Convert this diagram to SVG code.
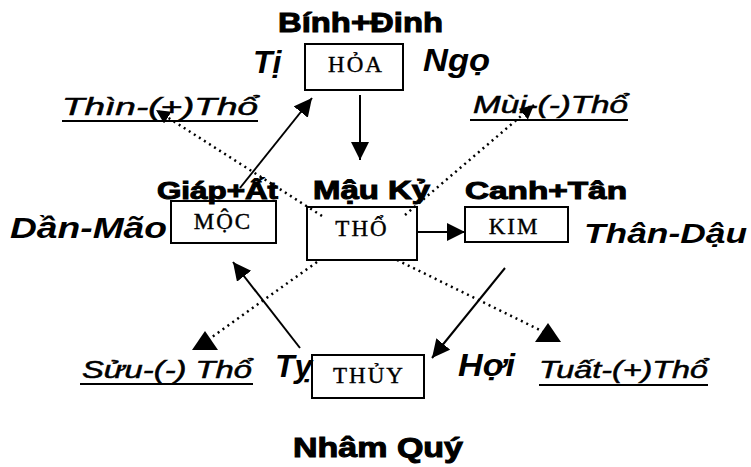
<svg xmlns="http://www.w3.org/2000/svg" width="751" height="467" viewBox="0 0 751 467">
<style>
.box{fill:none;stroke:#000;stroke-width:2}
.lbl{font-family:"Liberation Serif","Times New Roman",serif;font-size:23px;letter-spacing:2px;text-anchor:middle;fill:#000;stroke:#000;stroke-width:0.4}
.stem{font-family:"Liberation Sans",Arial,sans-serif;font-weight:bold;fill:#000;stroke:#000;stroke-width:1}
.br{font-family:"Liberation Sans",Arial,sans-serif;font-weight:bold;font-style:italic;fill:#000}
.tho{font-family:"Liberation Sans",Arial,sans-serif;font-style:italic;font-size:23px;fill:#000;stroke:#000;stroke-width:0.5}
.ul{stroke:#000;stroke-width:2}
.solid{stroke:#000;stroke-width:2;fill:none}
.dot{stroke:#000;stroke-width:2.5;stroke-dasharray:2 4;fill:none}
</style>
<defs>
<marker id="ah" markerUnits="userSpaceOnUse" markerWidth="20" markerHeight="20" refX="18" refY="9" orient="auto">
<path d="M0,0 L18,9 L0,18 z" fill="#000"/>
</marker>
<marker id="dh" markerUnits="userSpaceOnUse" markerWidth="18" markerHeight="18" refX="14" refY="7" orient="auto">
<path d="M0,0 L14,7 L0,14 z" fill="#000"/>
</marker>
<marker id="uh" markerUnits="userSpaceOnUse" markerWidth="30" markerHeight="24" refX="13" refY="11" orient="0">
<path d="M13,0 L26,19 L0,19 z" fill="#000"/>
</marker>
</defs>

<g id="connectors">
<path class="solid" d="M240,188 L312,98" marker-end="url(#ah)"/>
<path class="solid" d="M360,95 L360,160" marker-end="url(#ah)"/>
<path class="solid" d="M418,232 L465,232" marker-end="url(#ah)"/>
<path class="solid" d="M505,268 L432,358" marker-end="url(#ah)"/>
<path class="solid" d="M300,348 L233,262" marker-end="url(#ah)"/>
<path class="dot" d="M322,216 L156,110" marker-end="url(#dh)"/>
<path class="dot" d="M405,215 L534,105" marker-end="url(#dh)"/>
<path class="dot" d="M317,262 L205,342" marker-end="url(#uh)"/>
<path class="dot" d="M397,260 L548,334" marker-end="url(#uh)"/>
</g>

<g id="hoa">
<text class="stem" x="278" y="32" font-size="27" textLength="165" lengthAdjust="spacingAndGlyphs">Bính+Đinh</text>
<rect class="box" x="305" y="44" width="98" height="46"/>
<text class="lbl" x="356" y="72">HỎA</text>
<text class="br" x="253" y="73" font-size="32">Tị</text>
<text class="br" x="423" y="71" font-size="32" textLength="67" lengthAdjust="spacingAndGlyphs">Ngọ</text>
</g>

<g id="moc">
<rect class="box" x="171" y="201" width="105" height="42"/>
<text class="stem" x="157" y="199" font-size="24" textLength="121" lengthAdjust="spacingAndGlyphs">Giáp+Ất</text>
<text class="lbl" x="223" y="229">MỘC</text>
<text class="br" x="10" y="238" font-size="30" textLength="157" lengthAdjust="spacingAndGlyphs">Dần-Mão</text>
</g>

<g id="tho">
<text class="stem" x="313" y="199" font-size="25" textLength="117" lengthAdjust="spacingAndGlyphs">Mậu Kỷ</text>
<rect class="box" x="307" y="207" width="110" height="53"/>
<text class="lbl" x="362" y="236">THỔ</text>
</g>

<g id="kim">
<text class="stem" x="465" y="199" font-size="24" textLength="162" lengthAdjust="spacingAndGlyphs">Canh+Tân</text>
<rect class="box" x="465" y="207" width="103" height="35"/>
<text class="lbl" x="514" y="234">KIM</text>
<text class="br" x="584" y="243" font-size="28" textLength="163" lengthAdjust="spacingAndGlyphs">Thân-Dậu</text>
</g>

<g id="thuy">
<rect class="box" x="312" y="355" width="112" height="43"/>
<text class="lbl" x="369" y="383">THỦY</text>
<text class="br" x="275" y="377" font-size="32">Tỵ</text>
<text class="br" x="458" y="376" font-size="32" textLength="57" lengthAdjust="spacingAndGlyphs">Hợi</text>
<text class="stem" x="293" y="457" font-size="27" textLength="170" lengthAdjust="spacingAndGlyphs">Nhâm Quý</text>
</g>

<g id="thin">
<text class="tho" x="62" y="115" textLength="196" lengthAdjust="spacingAndGlyphs">Thìn-(+)Thổ</text>
<line class="ul" x1="62" y1="121" x2="258" y2="121"/>
</g>

<g id="mui">
<text class="tho" x="473" y="113" textLength="155" lengthAdjust="spacingAndGlyphs">Mùi-(-)Thổ</text>
<line class="ul" x1="470" y1="120" x2="628" y2="120"/>
</g>

<g id="suu">
<text class="tho" x="82" y="378" textLength="170" lengthAdjust="spacingAndGlyphs">Sửu-(-) Thổ</text>
<line class="ul" x1="80" y1="384" x2="253" y2="384"/>
</g>

<g id="tuat">
<text class="tho" x="539" y="378" textLength="169" lengthAdjust="spacingAndGlyphs">Tuất-(+)Thổ</text>
<line class="ul" x1="539" y1="385" x2="708" y2="385"/>
</g>
</svg>
